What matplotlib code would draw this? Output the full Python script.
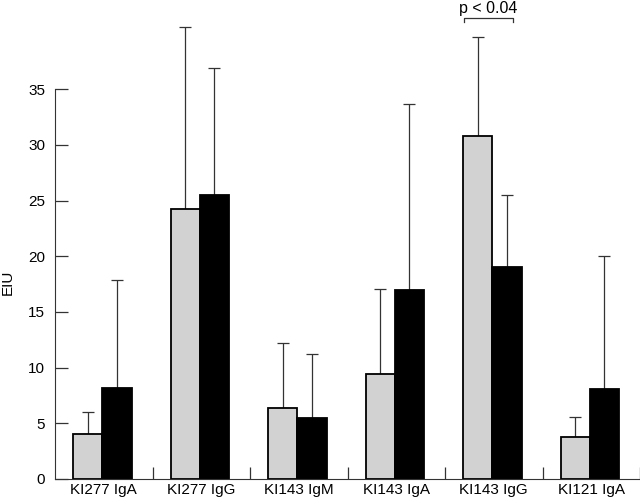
import matplotlib
matplotlib.use("Agg")
import matplotlib.pyplot as plt
import numpy as np

plt.rcParams["font.family"] = ["Liberation Sans", "DejaVu Sans"]

# data
groups = ["KI277 IgA", "KI277 IgG", "KI143 IgM", "KI143 IgA", "KI143 IgG", "KI121 IgA"]
grey_mean = [4.0, 24.2, 6.4, 9.4, 30.8, 3.8]
grey_err_top = [6.0, 40.6, 12.2, 17.1, 39.7, 5.6]
black_mean = [8.2, 25.5, 5.45, 17.0, 19.0, 8.1]
black_err_top = [17.9, 36.9, 11.2, 33.7, 25.5, 20.0]
p_label = "p < 0.04"

x = np.arange(len(groups))
width = 0.3

fig = plt.figure(figsize=(6.4, 5.01), dpi=100)
ax = fig.add_axes([55 / 640, 22 / 501, 585 / 640, 479 / 501])

grey_x = x + 0.335
black_x = x + 0.635

ax.bar(grey_x, grey_mean, width, color="#d2d2d2", edgecolor="black", linewidth=1.3, zorder=2)
ax.bar(black_x, black_mean, width, color="black", edgecolor="black", linewidth=1.3, zorder=2)

# upward-only error bars
up_g = np.array(grey_err_top) - np.array(grey_mean)
up_b = np.array(black_err_top) - np.array(black_mean)
ax.errorbar(grey_x, grey_mean, yerr=[np.zeros_like(up_g), up_g], fmt="none",
            ecolor="#333333", elinewidth=0.9, capsize=4.3, capthick=0.9, zorder=1)
ax.errorbar(black_x, black_mean, yerr=[np.zeros_like(up_b), up_b], fmt="none",
            ecolor="#333333", elinewidth=0.9, capsize=4.3, capthick=0.9, zorder=1)

# significance bracket
bx0, bx1, by = 4.19, 4.70, 41.4
ax.plot([bx0, bx0, bx1, bx1], [by - 0.35, by, by, by - 0.35], color="#333333", lw=0.9,
        clip_on=False)
ax.text((bx0 + bx1) / 2, by + 0.15, p_label, ha="center", va="bottom", fontsize=11.5,
        clip_on=False)

ax.set_xlim(0, 6)
ax.set_ylim(0, 43)

for s in ["top", "right"]:
    ax.spines[s].set_visible(False)
ax.spines["left"].set_bounds(0, 35)
ax.spines["bottom"].set_bounds(0, 6)
ax.spines["left"].set_color("#333333")
ax.spines["bottom"].set_color("#333333")

ax.set_yticks(np.arange(0, 36, 5))
ax.tick_params(axis="y", direction="in", length=9, width=0.9, color="#333333",
               labelsize=11, pad=7)

ax.set_xticks(np.arange(1, 7))
ax.set_xticklabels([])
ax.set_xticks(x + 0.5, minor=True)
ax.set_xticklabels(groups, minor=True)
ax.tick_params(axis="x", which="major", direction="in", length=9, width=0.9, color="#333333")
ax.tick_params(axis="x", which="minor", length=0, labelsize=11, pad=3)

ax.set_ylabel("EIU", fontsize=11)
ax.yaxis.set_label_coords(-0.068, 0.41)

fig.savefig("out.png", dpi=100)
